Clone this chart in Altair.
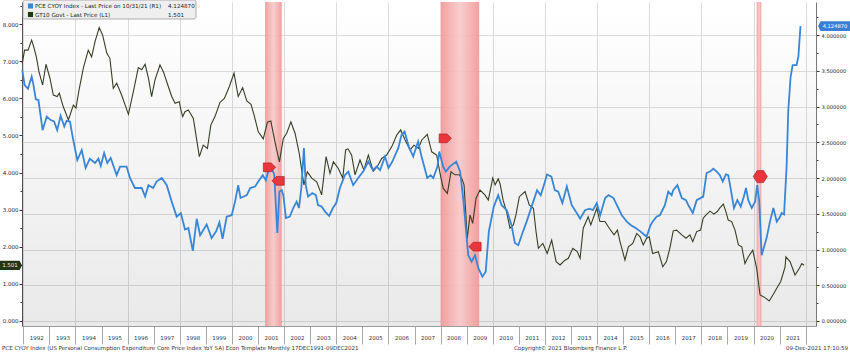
import altair as alt
import pandas as pd

FONT = "DejaVu Sans"
BLUE = "#3a86d6"
GREEN = "#353f25"

# ---------------- data ----------------
pce_year = [1991.96, 1992.05, 1992.18, 1992.32, 1992.38, 1992.48, 1992.58, 1992.74, 1992.90, 1993.05,
            1993.18, 1993.30, 1993.43, 1993.57, 1993.66, 1993.79, 1993.89, 1994.07, 1994.24, 1994.39,
            1994.55, 1994.75, 1994.88, 1994.97, 1995.10, 1995.22, 1995.35, 1995.58, 1995.71, 1995.96,
            1996.09, 1996.28, 1996.54, 1996.67, 1996.80, 1996.98, 1997.11, 1997.31, 1997.50, 1997.69,
            1997.88, 1998.04, 1998.20, 1998.33, 1998.50, 1998.65, 1998.78, 1999.03, 1999.22, 1999.39,
            1999.52, 1999.64, 1999.80, 1999.99, 2000.12, 2000.24, 2000.33, 2000.57, 2000.70, 2000.89,
            2001.01, 2001.18, 2001.30, 2001.39, 2001.52, 2001.62, 2001.74, 2001.82, 2001.91, 2001.97,
            2002.07, 2002.22, 2002.35, 2002.48, 2002.57, 2002.66, 2002.76, 2002.83, 2002.92, 2003.08,
            2003.22, 2003.30, 2003.44, 2003.57, 2003.73, 2003.87, 2004.00, 2004.14, 2004.33, 2004.46,
            2004.65, 2004.84, 2005.03, 2005.23, 2005.40, 2005.55, 2005.68, 2005.87, 2006.00, 2006.15,
            2006.38, 2006.50, 2006.62, 2006.78, 2006.95, 2007.14, 2007.27, 2007.49, 2007.62, 2007.72,
            2007.88, 2007.95, 2008.10, 2008.20, 2008.35, 2008.60, 2008.75, 2008.88, 2009.06, 2009.19,
            2009.32, 2009.45, 2009.60, 2009.73, 2009.85, 2010.04, 2010.21, 2010.34, 2010.54, 2010.72,
            2010.85, 2010.98, 2011.14, 2011.30, 2011.49, 2011.70, 2011.84, 2011.96, 2012.08, 2012.25,
            2012.38, 2012.51, 2012.67, 2012.84, 2013.03, 2013.22, 2013.35, 2013.54, 2013.71, 2013.84,
            2013.99, 2014.12, 2014.31, 2014.44, 2014.63, 2014.76, 2014.95, 2015.14, 2015.30, 2015.48,
            2015.67, 2015.80, 2015.90, 2016.05, 2016.15, 2016.28, 2016.41, 2016.60, 2016.73, 2016.86,
            2016.92, 2017.08, 2017.25, 2017.41, 2017.50, 2017.67, 2017.82, 2018.07, 2018.20, 2018.33,
            2018.46, 2018.59, 2018.71, 2018.82, 2018.94, 2019.03, 2019.10, 2019.25, 2019.38, 2019.51,
            2019.63, 2019.71, 2019.80, 2019.93, 2020.06, 2020.14, 2020.22, 2020.31, 2020.50, 2020.63,
            2020.76, 2020.89, 2020.99, 2021.08, 2021.17, 2021.27, 2021.33, 2021.42, 2021.50, 2021.65,
            2021.72, 2021.80]
pce_value = [3.51, 3.30, 3.25, 3.42, 3.32, 3.10, 3.09, 2.67, 2.86, 2.81,
             2.79, 2.67, 2.87, 2.72, 2.80, 2.79, 2.58, 2.25, 2.39, 2.14,
             2.27, 2.21, 2.27, 2.17, 2.35, 2.21, 2.28, 2.04, 2.16, 2.16,
             2.00, 1.86, 1.86, 1.74, 1.90, 1.86, 1.95, 2.00, 1.90, 1.67,
             1.46, 1.51, 1.28, 1.30, 0.98, 1.43, 1.20, 1.35, 1.16, 1.25,
             1.38, 1.15, 1.46, 1.48, 1.67, 1.90, 1.72, 1.76, 1.86, 1.88,
             1.95, 2.04, 1.97, 2.09, 2.14, 2.05, 1.23, 1.81, 1.83, 1.76,
             1.44, 1.46, 1.58, 1.67, 1.58, 1.86, 2.42, 1.90, 1.74, 1.79,
             1.76, 1.62, 1.60, 1.53, 1.47, 1.58, 1.65, 1.86, 2.04, 2.09,
             1.90, 2.00, 2.09, 2.23, 2.11, 2.16, 2.11, 2.30, 2.14, 2.23,
             2.42, 2.60, 2.65, 2.44, 2.30, 2.51, 2.30, 2.00, 2.04, 2.00,
             2.16, 2.37, 2.16, 2.09, 2.16, 2.23, 2.09, 1.67, 0.92, 0.83,
             0.92, 0.74, 0.62, 0.69, 1.25, 1.60, 1.76, 1.62, 1.55, 1.34,
             1.09, 1.06, 1.23, 1.39, 1.60, 1.83, 1.76, 1.90, 2.05, 2.02,
             1.83, 1.81, 1.65, 1.88, 1.62, 1.51, 1.43, 1.55, 1.57, 1.55,
             1.65, 1.48, 1.72, 1.76, 1.72, 1.62, 1.48, 1.39, 1.34, 1.30,
             1.25, 1.21, 1.18, 1.34, 1.40, 1.46, 1.48, 1.62, 1.81, 1.76,
             1.83, 1.90, 1.72, 1.69, 1.62, 1.51, 1.69, 1.74, 2.07, 2.09,
             2.13, 2.09, 2.04, 1.95, 2.05, 2.04, 1.90, 1.58, 1.69, 1.60,
             1.74, 1.86, 1.69, 1.58, 1.67, 1.90, 1.67, 0.92, 1.16, 1.39,
             1.58, 1.39, 1.44, 1.51, 1.49, 2.18, 2.93, 3.41, 3.58, 3.58,
             3.70, 4.12487]

gt10_year = [1991.96, 1992.05, 1992.18, 1992.32, 1992.40, 1992.50, 1992.60, 1992.74, 1992.87, 1993.02,
             1993.15, 1993.30, 1993.38, 1993.53, 1993.73, 1993.92, 1994.02, 1994.13, 1994.30, 1994.49,
             1994.62, 1994.75, 1994.91, 1995.04, 1995.20, 1995.32, 1995.45, 1995.58, 1995.77, 1996.03,
             1996.22, 1996.41, 1996.54, 1996.67, 1996.80, 1996.92, 1997.05, 1997.24, 1997.37, 1997.56,
             1997.69, 1997.82, 1997.98, 1998.04, 1998.11, 1998.20, 1998.33, 1998.52, 1998.75, 1998.90,
             1999.06, 1999.19, 1999.35, 1999.54, 1999.71, 1999.90, 2000.08, 2000.24, 2000.41, 2000.57,
             2000.73, 2000.85, 2001.01, 2001.20, 2001.36, 2001.49, 2001.65, 2001.82, 2001.97, 2002.10,
             2002.26, 2002.42, 2002.58, 2002.76, 2002.89, 2003.06, 2003.25, 2003.44, 2003.61, 2003.76,
             2003.89, 2004.08, 2004.25, 2004.36, 2004.45, 2004.59, 2004.72, 2004.91, 2005.06, 2005.23,
             2005.42, 2005.57, 2005.74, 2005.93, 2006.13, 2006.32, 2006.47, 2006.64, 2006.83, 2006.98,
             2007.15, 2007.28, 2007.49, 2007.66, 2007.85, 2007.98, 2008.10, 2008.26, 2008.40, 2008.55,
             2008.72, 2008.81, 2008.90, 2008.97, 2009.02, 2009.13, 2009.23, 2009.36, 2009.51, 2009.70,
             2009.83, 2010.00, 2010.09, 2010.21, 2010.28, 2010.40, 2010.53, 2010.66, 2010.79, 2010.89,
             2011.02, 2011.24, 2011.40, 2011.56, 2011.66, 2011.75, 2011.92, 2012.09, 2012.26, 2012.43,
             2012.58, 2012.77, 2012.90, 2013.07, 2013.24, 2013.35, 2013.47, 2013.66, 2013.76, 2013.99,
             2014.11, 2014.30, 2014.47, 2014.65, 2014.78, 2014.88, 2015.07, 2015.20, 2015.37, 2015.52,
             2015.65, 2015.77, 2015.90, 2016.00, 2016.13, 2016.35, 2016.52, 2016.66, 2016.79, 2016.92,
             2017.05, 2017.25, 2017.41, 2017.56, 2017.67, 2017.82, 2017.97, 2018.07, 2018.18, 2018.33,
             2018.48, 2018.61, 2018.71, 2018.84, 2018.94, 2019.03, 2019.16, 2019.29, 2019.42, 2019.55,
             2019.67, 2019.80, 2019.97, 2020.12, 2020.25, 2020.44, 2020.60, 2020.76, 2020.89, 2021.04,
             2021.21, 2021.24, 2021.40, 2021.59, 2021.76, 2021.85, 2021.94]
gt10_value = [6.95, 7.30, 7.30, 7.57, 7.39, 7.12, 6.72, 6.36, 6.92, 6.55,
              6.09, 6.05, 6.14, 5.78, 5.42, 5.82, 5.74, 6.20, 6.81, 7.30,
              7.12, 7.53, 7.91, 7.71, 7.22, 7.08, 6.27, 6.41, 6.09, 5.57,
              6.18, 6.83, 6.77, 6.92, 6.54, 6.05, 6.50, 6.90, 6.72, 6.32,
              6.05, 5.87, 5.91, 5.70, 5.51, 5.64, 5.69, 5.46, 4.43, 4.74,
              4.65, 5.28, 5.51, 5.89, 6.00, 6.32, 6.68, 6.05, 6.29, 5.93,
              5.84, 5.55, 5.10, 4.91, 5.36, 5.39, 4.83, 4.29, 4.92, 5.06,
              5.37, 5.06, 4.52, 3.67, 4.02, 3.85, 3.75, 3.40, 4.43, 3.98,
              4.29, 4.11, 3.85, 4.61, 4.64, 4.47, 3.94, 4.34, 4.07, 4.47,
              4.04, 4.16, 4.38, 4.47, 4.70, 5.01, 5.15, 4.88, 4.61, 4.74,
              4.65, 4.88, 5.03, 4.56, 4.47, 3.98, 3.58, 3.44, 4.02, 3.94,
              3.94, 3.85, 3.67, 2.86, 2.21, 2.86, 2.63, 3.31, 3.53, 3.40,
              3.26, 3.85, 3.67, 3.83, 3.70, 3.25, 2.95, 2.50, 2.59, 2.86,
              3.35, 3.49, 3.13, 3.04, 2.41, 1.96, 2.09, 1.82, 2.18, 1.60,
              1.51, 1.64, 1.69, 1.96, 1.87, 1.69, 2.50, 2.81, 2.59, 3.04,
              2.68, 2.68, 2.50, 2.32, 2.45, 2.14, 1.64, 2.00, 2.09, 2.36,
              2.27, 2.05, 2.23, 2.27, 1.82, 1.87, 1.46, 1.60, 1.96, 2.43,
              2.45, 2.32, 2.23, 2.32, 2.14, 2.41, 2.45, 2.77, 2.86, 2.96,
              2.88, 2.95, 3.05, 3.15, 2.95, 2.72, 2.68, 2.45, 2.05, 2.00,
              1.55, 1.73, 1.91, 1.42, 0.70, 0.63, 0.54, 0.72, 0.88, 1.06,
              1.46, 1.73, 1.60, 1.24, 1.42, 1.55, 1.501]

recession_start = [2001.27, 2008.00, 2020.12]
recession_end = [2001.91, 2009.48, 2020.30]

flag_start_year = [2001.44, 2008.18]
flag_start_value = [2.15, 2.555]
flag_end_year = [2001.77, 2009.32]
flag_end_value = [1.96, 1.04]
flag_both_year = [2020.26]
flag_both_value = [2.02]

year_ticks = list(range(1992, 2023))
left_ticks = [i * 0.5 for i in range(0, 18)]
right_ticks = [i * 0.25 for i in range(0, 18)]

legend_names = ["PCE CYOY Index - Last Price on 10/31/21 (R1)", "GT10 Govt - Last Price (L1)"]
legend_last = ["4.124870", "1.501"]
footer_left = "PCE CYOY Index (US Personal Consumption Expenditure Core Price Index YoY SA) Econ Template  Monthly 17DEC1991-09DEC2021"
footer_mid = "Copyright\u00a9 2021 Bloomberg Finance L.P."
footer_right = "09-Dec-2021 17:10:59"

# ---------------- frames ----------------
pce = pd.DataFrame({"year": pce_year, "value": pce_value})
gt = pd.DataFrame({"year": gt10_year, "value": gt10_value})
rec = pd.DataFrame({"start": recession_start, "end": recession_end})
one = pd.DataFrame({"a": [0]})

W, H = 794, 324
FS = 5.5

xs = alt.Scale(domain=[1991.95, 2022.395], nice=False, zero=False)
ls = alt.Scale(domain=[-0.135, 8.598], nice=False, zero=False)
rs = alt.Scale(domain=[-0.070, 4.462], nice=False, zero=False)

x_axis = alt.Axis(
    values=year_ticks, title=None,
    labelExpr="datum.value < 2022 ? '' + datum.value : ''",
    labelOffset=13, tickSize=18, labelPadding=-9,
    labelFont=FONT, labelFontSize=FS, labelColor="#333333",
    tickColor="#a8a8a8", domainColor="#9a9a9a",
    grid=True, gridColor="#dddddd",
    gridOpacity={"condition": {"test": "datum.value % 2 == 0", "value": 1}, "value": 0},
    labelOverlap=False, labelFlush=False, labelBound=False,
)
left_axis = alt.Axis(
    orient="left", values=left_ticks, title=None, grid=False,
    labelExpr="datum.value % 1 == 0 ? format(datum.value, '.3f') : ''",
    tickSize={"condition": {"test": "datum.value % 1 == 0", "value": 3}, "value": 2},
    labelPadding=1, labelFont=FONT, labelFontSize=FS, labelColor="#222222",
    tickColor="#333333", domainColor="#555555", labelOverlap=False, labelFlush=False,
)
right_axis = alt.Axis(
    orient="right", values=right_ticks, title=None,
    labelExpr="datum.value % 0.5 == 0 ? format(datum.value, '.6f') : ''",
    tickSize={"condition": {"test": "datum.value % 0.5 == 0", "value": 3}, "value": 2},
    labelPadding=2, labelFont=FONT, labelFontSize=5.2, labelColor="#222222",
    tickColor="#333333", domainColor="#777777", labelOverlap=False, labelFlush=False,
    grid=True, gridColor="#dddddd",
    gridOpacity={"condition": {"test": "datum.value % 0.5 == 0", "value": 1}, "value": 0},
)

def X(f):
    return alt.X(f"{f}:Q", scale=xs, axis=x_axis)

def YL(f="value"):
    return alt.Y(f"{f}:Q", scale=ls, axis=left_axis)

def YR(f="value"):
    return alt.Y(f"{f}:Q", scale=rs, axis=right_axis)

bg_grad = {"gradient": "linear", "x1": 0, "x2": 0, "y1": 0, "y2": 1,
           "stops": [{"offset": 0, "color": "rgba(0,0,0,0)"},
                     {"offset": 1, "color": "rgba(0,0,0,0.085)"}]}
band_grad = {"gradient": "linear", "x1": 0, "x2": 1, "y1": 0, "y2": 0,
             "stops": [{"offset": 0, "color": "#f19696"},
                       {"offset": 0.5, "color": "#f8c8c8"},
                       {"offset": 1, "color": "#f19696"}]}

background = alt.Chart(one).mark_rect(color=bg_grad).encode(
    x=alt.value(0), x2=alt.value(W), y=alt.value(0), y2=alt.value(H))
bands = alt.Chart(rec).mark_rect(color=band_grad, opacity=0.9).encode(
    x=X("start"), x2="end:Q", y=alt.value(0), y2=alt.value(H))

green_line = alt.Chart(gt).mark_line(color=GREEN, strokeWidth=1.1).encode(x=X("year"), y=YL())

TAG_L = "M-1,-0.42 L0.78,-0.42 L1,0 L0.78,0.42 L-1,0.42 Z"
TAG_R = "M-1,0 L-0.84,-0.3 L1,-0.3 L1,0.3 L-0.84,0.3 Z"
gt_last = pd.DataFrame({"value": [gt10_value[-1]]})
pce_last = pd.DataFrame({"value": [pce_value[-1]]})

green_tag = alt.Chart(gt_last).mark_point(shape=TAG_L, filled=True, fill="#22361a", opacity=1,
                                           strokeWidth=0, size=484).encode(x=alt.value(-11), y=YL())
green_tag_txt = alt.Chart(gt_last).mark_text(color="#e8f0e0", font=FONT, fontSize=FS).encode(
    x=alt.value(-12), y=YL(), text=alt.Text("value:Q", format=".3f"))

blue_line = alt.Chart(pce).mark_line(color=BLUE, strokeWidth=1.8).encode(x=X("year"), y=YR())

FLAG_R = "M-1,-0.72 L0.3,-0.72 L1,0 L0.3,0.72 L-1,0.72 Z"
FLAG_L = "M1,-0.72 L-0.3,-0.72 L-1,0 L-0.3,0.72 L1,0.72 Z"
FLAG_B = "M-1,0 L-0.45,-0.85 L0.45,-0.85 L1,0 L0.45,0.85 L-0.45,0.85 Z"

def flags(years, vals, shape, size):
    df = pd.DataFrame({"year": years, "value": vals})
    return alt.Chart(df).mark_point(shape=shape, filled=True, fill="#e8363c", stroke="#a3181c",
                                    strokeWidth=0.6, opacity=1, size=size).encode(x=X("year"), y=YR())

blue_tag = alt.Chart(pce_last).mark_point(shape=TAG_R, filled=True, fill="#3b7fd4", opacity=1,
                                          strokeWidth=0, size=1024).encode(x=alt.value(812), y=YR())
blue_tag_txt = alt.Chart(pce_last).mark_text(color="white", font=FONT, fontSize=5.2).encode(
    x=alt.value(813), y=YR(), text=alt.Text("value:Q", format=".6f"))

left_layer = alt.layer(background, bands, green_line, green_tag, green_tag_txt)
right_layer = alt.layer(blue_line,
                        flags(flag_start_year, flag_start_value, FLAG_R, 150),
                        flags(flag_end_year, flag_end_value, FLAG_L, 150),
                        flags(flag_both_year, flag_both_value, FLAG_B, 200),
                        blue_tag, blue_tag_txt)

# legend box and footer
legend_box = alt.Chart(one).mark_rect(fill="#efefef", stroke="#9c9c9c", strokeWidth=0.8,
                                      cornerRadius=2).encode(
    x=alt.value(1), x2=alt.value(174), y=alt.value(-2), y2=alt.value(17))
sq1 = alt.Chart(one).mark_square(color=BLUE, size=26, opacity=1).encode(x=alt.value(8.5), y=alt.value(4))
sq2 = alt.Chart(one).mark_square(color="#1f3a10", size=26, opacity=1).encode(x=alt.value(8.5), y=alt.value(12.5))

def txt(s, x, y, align="left", color="#222222", size=FS):
    return alt.Chart(pd.DataFrame({"t": [s]})).mark_text(
        align=align, baseline="middle", font=FONT, fontSize=size, color=color).encode(
        x=alt.value(x), y=alt.value(y), text="t:N")

LFS = 5.6
decor = alt.layer(
    legend_box, sq1, sq2,
    txt(legend_names[0], 13, 4, size=LFS), txt(legend_names[1], 13, 12.5, size=LFS),
    txt(legend_last[0], 146, 4, size=LFS), txt(legend_last[1], 146, 12.5, size=LFS),
    txt(footer_left, -20, 346, color="#333333"),
    txt(footer_mid, 492, 346, color="#333333"),
    txt(footer_right, 826, 346, align="right", color="#333333"),
)

chart = alt.layer(left_layer, right_layer, decor).resolve_scale(y="independent").properties(
    width=W, height=H,
    padding={"left": 22, "top": 2, "right": 34, "bottom": 26},
    autosize=alt.AutoSizeParams(type="none"),
    background="white",
).configure_view(stroke=None)

chart.save("out.html", embed_options={"renderer": "svg", "actions": False})
